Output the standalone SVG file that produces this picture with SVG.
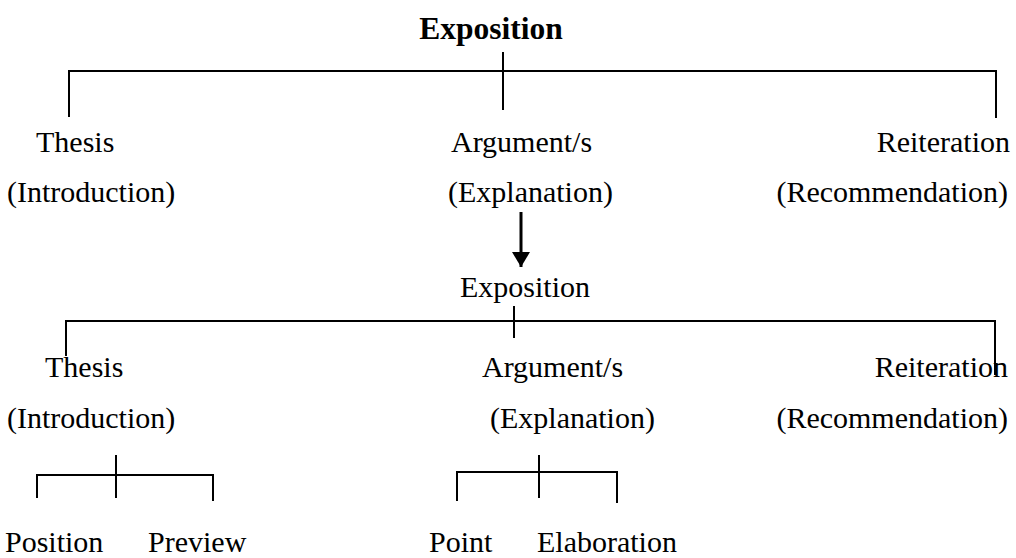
<svg xmlns="http://www.w3.org/2000/svg" width="1016" height="558" viewBox="0 0 1016 558">
<style>
text{font-family:"Liberation Serif","Times New Roman",serif;font-size:30px;fill:#000}
.b{font-weight:bold;font-size:31.5px}
.ln{stroke:#000;stroke-width:2;fill:none}
</style>
<defs>
<marker id="ah" viewBox="0 0 15 18" refX="15" refY="9" markerWidth="5" markerHeight="6" orient="auto" markerUnits="strokeWidth">
<path d="M0,0 L15,9 L0,18 z" fill="#000"/>
</marker>
</defs>
<rect width="1016" height="558" fill="#fff"/>
<g id="connectors">
<path class="ln" d="M69,117 V71 H996 V118 M503,52 V110"/>
<line x1="521" y1="212" x2="521" y2="267" stroke="#000" stroke-width="3" marker-end="url(#ah)"/>
<path class="ln" d="M66,356 V321 H995 V375 M514,306 V338"/>
<path class="ln" d="M37,498 V475 H213 V501 M116,455 V498"/>
<path class="ln" d="M457,501 V472 H617 V503 M539,455 V498"/>
</g>
<g id="n-exposition-top"><text class="b" x="491" y="39" text-anchor="middle">Exposition</text></g>
<g id="n-thesis-1"><text x="36" y="152">Thesis</text><text x="7" y="202">(Introduction)</text></g>
<g id="n-argument-1"><text x="451" y="152">Argument/s</text><text x="448" y="202">(Explanation)</text></g>
<g id="n-reiteration-1"><text x="1010" y="152" text-anchor="end">Reiteration</text><text x="1008" y="202" text-anchor="end">(Recommendation)</text></g>
<g id="n-exposition-2"><text x="460" y="297">Exposition</text></g>
<g id="n-thesis-2"><text x="45" y="377">Thesis</text><text x="7" y="428">(Introduction)</text></g>
<g id="n-argument-2"><text x="482" y="377">Argument/s</text><text x="490" y="428">(Explanation)</text></g>
<g id="n-reiteration-2"><text x="1008" y="377" text-anchor="end">Reiteration</text><text x="1008" y="428" text-anchor="end">(Recommendation)</text></g>
<g id="n-position"><text x="5" y="552">Position</text></g>
<g id="n-preview"><text x="148" y="552">Preview</text></g>
<g id="n-point"><text x="429" y="552">Point</text></g>
<g id="n-elaboration"><text x="537" y="552">Elaboration</text></g>
</svg>
